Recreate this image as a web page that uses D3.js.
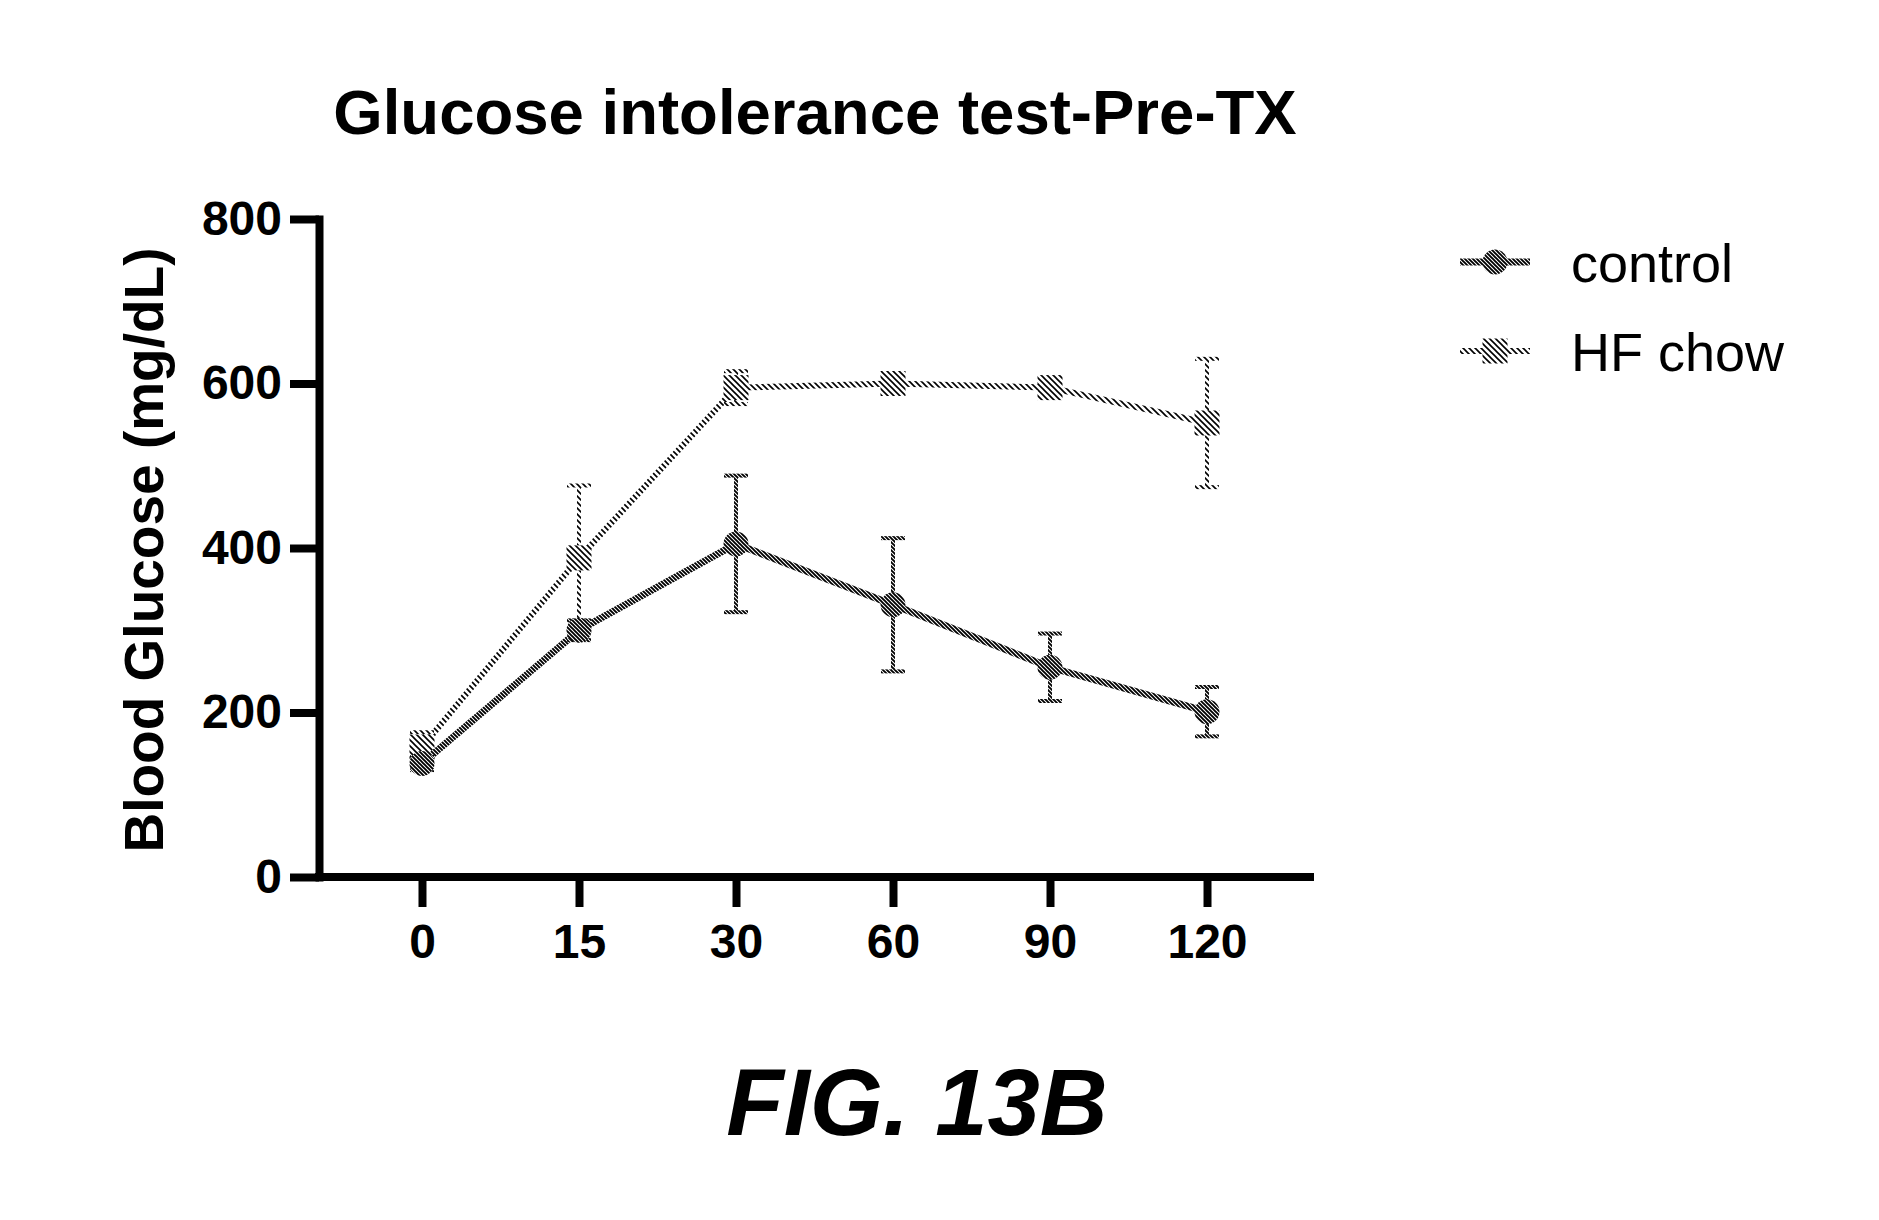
<!DOCTYPE html>
<html>
<head>
<meta charset="utf-8">
<script src="https://cdn.jsdelivr.net/npm/d3@7"></script>
<style>
  body { margin: 0; background: #fff; }
  text { font-family: "Liberation Sans", Arial, sans-serif; fill: #000; }
</style>
</head>
<body>
<div class="visHolder"></div>
<script>
const width = 1879,
  height = 1220;

// data
const timePoints = ["0", "15", "30", "60", "90", "120"];
const controlMean = [138, 300, 405, 331, 255, 201];
const controlErr = [8, 12, 83, 81, 41, 30];
const hfMean = [158, 388, 595, 600, 595, 552];
const hfErr = [18, 88, 20, 10, 12, 78];
const yTicks = [0, 200, 400, 600, 800];
const seriesNames = ["control", "HF chow"];

const svg = d3
  .select(".visHolder")
  .append("svg")
  .attr("width", width)
  .attr("height", height);

// hatch patterns that mimic the scanned line art
const defs = svg.append("defs");
const pCtrl = defs
  .append("pattern")
  .attr("id", "patCtrl")
  .attr("patternUnits", "userSpaceOnUse")
  .attr("width", 4)
  .attr("height", 4);
pCtrl.append("rect").attr("width", 4).attr("height", 4).attr("fill", "#fff");
pCtrl
  .append("path")
  .attr("d", "M-1,-1L5,5M-1,3L1,5M3,-1L5,1")
  .attr("stroke", "#000")
  .attr("stroke-width", 1.9);

const pHF = defs
  .append("pattern")
  .attr("id", "patHF")
  .attr("patternUnits", "userSpaceOnUse")
  .attr("width", 6)
  .attr("height", 6);
pHF.append("rect").attr("width", 6).attr("height", 6).attr("fill", "#fff");
pHF
  .append("path")
  .attr("d", "M-1,-1L7,7M-1,5L1,7M5,-1L7,1")
  .attr("stroke", "#000")
  .attr("stroke-width", 1.6);

const xScale = d3.scalePoint().domain(timePoints).range([319, 1310]).padding(0.656);
const yScale = d3.scaleLinear().domain([0, 800]).range([877, 219]);

// title
svg
  .append("text")
  .attr("x", 815)
  .attr("y", 134)
  .attr("text-anchor", "middle")
  .style("font-size", "63.5px")
  .style("font-weight", "bold")
  .text("Glucose intolerance test-Pre-TX");

// axes
const yAxis = d3.axisLeft(yScale).tickValues(yTicks).tickSize(29).tickSizeOuter(0).tickPadding(8);
const xAxis = d3.axisBottom(xScale).tickSize(30).tickSizeOuter(0).tickPadding(17);

const gy = svg.append("g").attr("id", "y-axis").attr("transform", "translate(319,0)").call(yAxis);
const gx = svg.append("g").attr("id", "x-axis").attr("transform", "translate(0,877)").call(xAxis);

[gx, gy].forEach((g) => {
  g.select(".domain").attr("stroke", "#000").attr("stroke-width", 8).attr("stroke-linecap", "square");
  g.selectAll(".tick line").attr("stroke", "#000").attr("stroke-width", 8);
  g.selectAll(".tick text").style("font-family", '"Liberation Sans", Arial, sans-serif').style("font-weight", "bold");
});
gy.selectAll(".tick text").style("font-size", "48px");
gx.selectAll(".tick text").style("font-size", "48px");
gx.select(".domain").attr("d", "M319,0H1310");

// y-axis title
svg
  .append("text")
  .attr("transform", "translate(163,550) rotate(-90)")
  .attr("text-anchor", "middle")
  .style("font-size", "55px")
  .style("font-weight", "bold")
  .text("Blood Glucose (mg/dL)");

const line = d3
  .line()
  .x((d, i) => xScale(timePoints[i]))
  .y((d) => yScale(d));

const drawSeries = (means, errs, pat, lineW, shape) => {
  const g = svg.append("g");
  g.append("path")
    .datum(means)
    .attr("d", line)
    .attr("fill", "none")
    .attr("stroke", pat)
    .attr("stroke-width", lineW);

  const bars = g
    .selectAll(".err")
    .data(means)
    .enter()
    .append("g")
    .attr("transform", (d, i) => "translate(" + xScale(timePoints[i]) + ",0)");
  bars
    .append("line")
    .attr("y1", (d, i) => yScale(d + errs[i]))
    .attr("y2", (d, i) => yScale(d - errs[i]))
    .attr("stroke", pat)
    .attr("stroke-width", 4);
  bars
    .append("line")
    .attr("x1", -12)
    .attr("x2", 12)
    .attr("y1", (d, i) => yScale(d + errs[i]))
    .attr("y2", (d, i) => yScale(d + errs[i]))
    .attr("stroke", pat)
    .attr("stroke-width", 4);
  bars
    .append("line")
    .attr("x1", -12)
    .attr("x2", 12)
    .attr("y1", (d, i) => yScale(d - errs[i]))
    .attr("y2", (d, i) => yScale(d - errs[i]))
    .attr("stroke", pat)
    .attr("stroke-width", 4);

  if (shape === "circle") {
    g.selectAll(".mk")
      .data(means)
      .enter()
      .append("circle")
      .attr("cx", (d, i) => xScale(timePoints[i]))
      .attr("cy", (d) => yScale(d))
      .attr("r", 12.5)
      .attr("fill", pat);
  } else {
    g.selectAll(".mk")
      .data(means)
      .enter()
      .append("rect")
      .attr("x", (d, i) => xScale(timePoints[i]) - 12.5)
      .attr("y", (d) => yScale(d) - 12.5)
      .attr("width", 25)
      .attr("height", 25)
      .attr("fill", pat);
  }
};

drawSeries(hfMean, hfErr, "url(#patHF)", 6, "square");
drawSeries(controlMean, controlErr, "url(#patCtrl)", 7, "circle");

// legend
const legend = svg
  .append("g")
  .attr("id", "legend")
  .selectAll("g")
  .data(seriesNames)
  .enter()
  .append("g")
  .attr("transform", (d, i) => "translate(1460," + (262 + i * 89) + ")");

legend
  .append("line")
  .attr("x1", 0)
  .attr("x2", 70)
  .attr("stroke", (d, i) => (i === 0 ? "url(#patCtrl)" : "url(#patHF)"))
  .attr("stroke-width", (d, i) => (i === 0 ? 7 : 6));

legend.each(function (d, i) {
  const el = d3.select(this);
  if (i === 0) {
    el.append("circle").attr("cx", 35).attr("cy", 0).attr("r", 12.5).attr("fill", "url(#patCtrl)");
  } else {
    el.append("rect").attr("x", 22.5).attr("y", -12.5).attr("width", 25).attr("height", 25).attr("fill", "url(#patHF)");
  }
});

legend
  .append("text")
  .attr("x", 111)
  .attr("y", 20)
  .style("font-size", "54px")
  .text((d) => d);

// figure label
svg
  .append("text")
  .attr("x", 917)
  .attr("y", 1135)
  .attr("text-anchor", "middle")
  .style("font-size", "94px")
  .style("font-weight", "bold")
  .style("font-style", "italic")
  .text("FIG. 13B");
</script>
</body>
</html>
